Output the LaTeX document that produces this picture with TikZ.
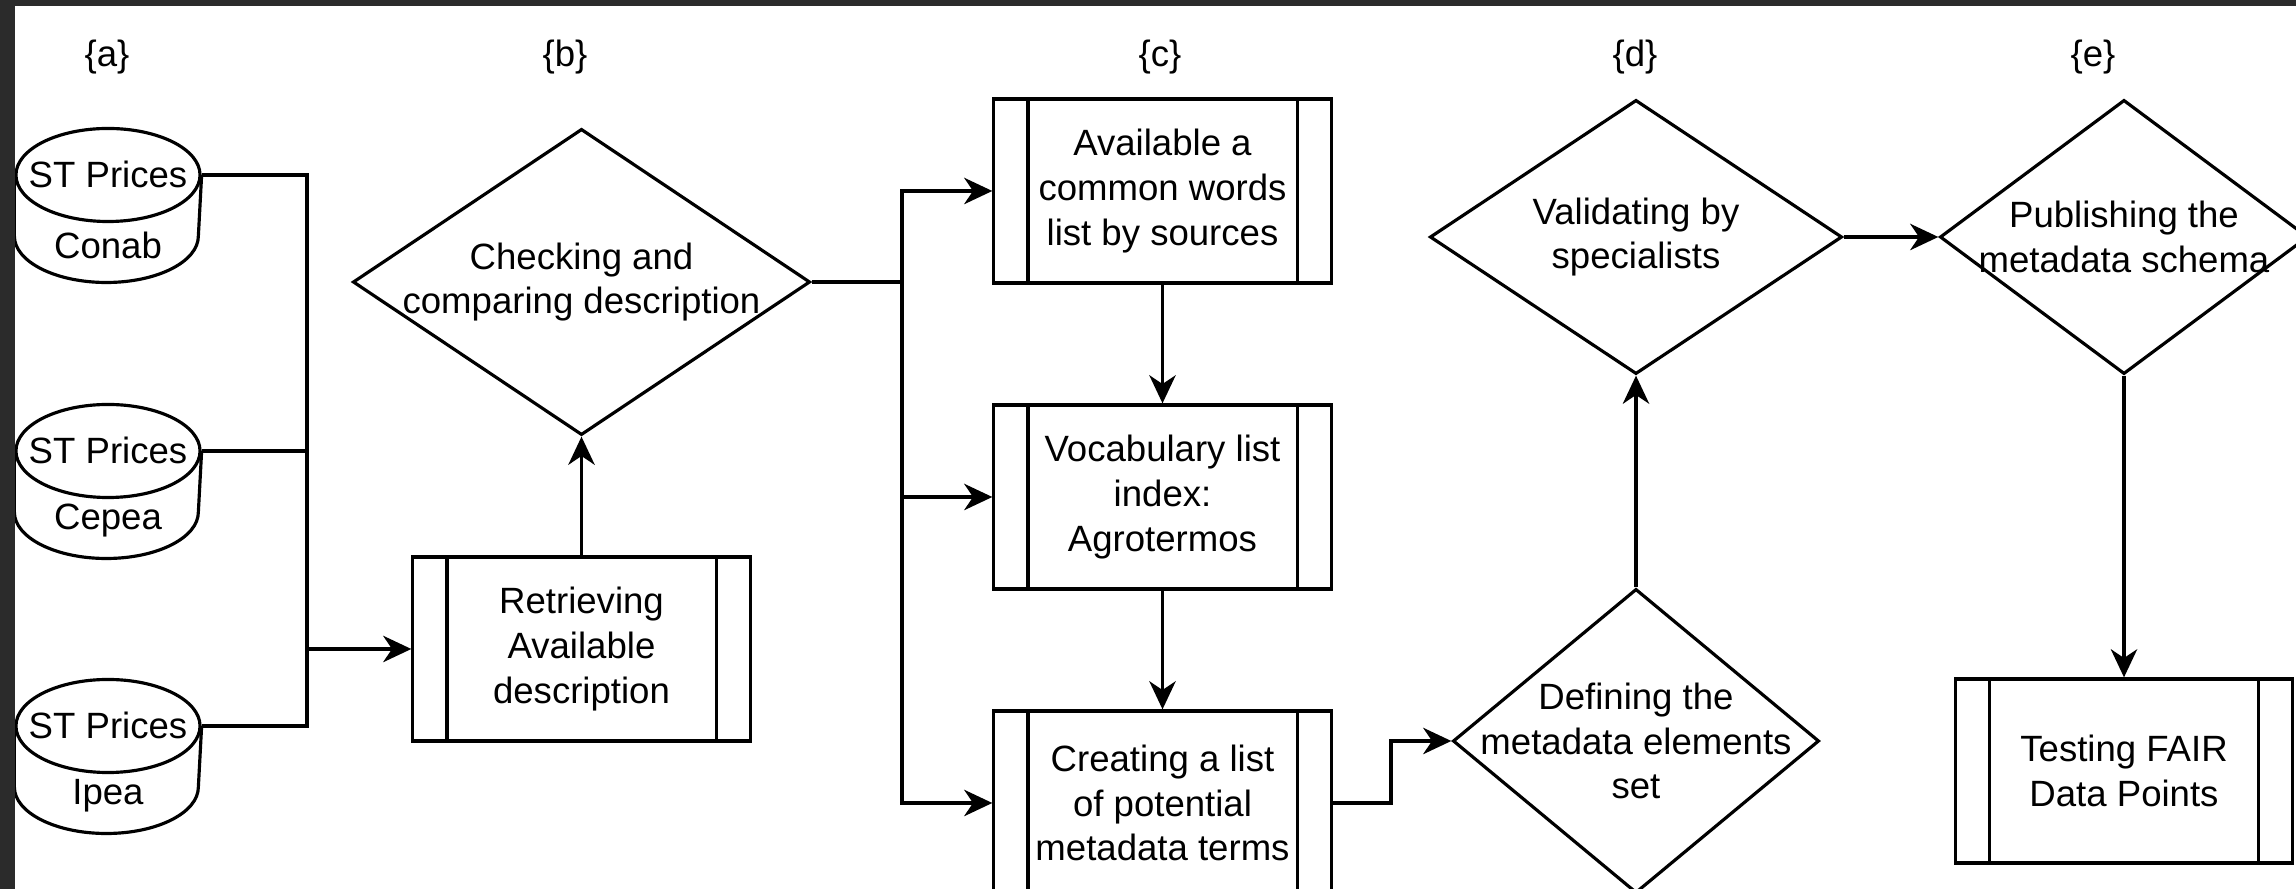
\documentclass[tikz,border=0pt]{standalone}
\usepackage{fontspec}
\setmainfont{Liberation Sans}
\usetikzlibrary{shapes.geometric,arrows.meta,calc}
\definecolor{framegray}{HTML}{2B2B2B}
\begin{document}
\begin{tikzpicture}[x=0.01cm,y=-0.01cm,
  every node/.style={font=\fontsize{10.4}{12.7}\selectfont},
  line/.style={draw=black, line width=0.9pt},
  arr/.style={line, -{Stealth[length=8pt,width=7.5pt,inset=2.5pt]}},
  txt/.style={align=center, inner sep=0pt},
  proc/.style={draw, line width=0.9pt, minimum width=3.37cm, minimum height=1.84cm,
    inner sep=0pt, align=center,
    path picture={\draw[line width=0.9pt]
      ([xshift=0.34cm]path picture bounding box.north west) -- ([xshift=0.34cm]path picture bounding box.south west)
      ([xshift=-0.34cm]path picture bounding box.north east) -- ([xshift=-0.34cm]path picture bounding box.south east);}},
  dia/.style={draw, diamond, line width=0.9pt, inner sep=0pt},
  topell/.style={draw, ellipse, line width=0.9pt, minimum width=1.84cm, minimum height=0.93cm, inner sep=0pt},
  lab/.style={inner sep=0pt},
]
\useasboundingbox (0,0) rectangle (2296,889);
\fill[framegray] (0,0) rectangle (2296,889);
\fill[white] (15,6) rectangle (2296,889);
\clip (15,6) rectangle (2296,889);

% column labels
\node[lab] (la) at (107,57) {\{a\}};
\node[lab] (lb) at (565,57) {\{b\}};
\node[lab] (lc) at (1160,57) {\{c\}};
\node[lab] (ld) at (1635,57) {\{d\}};
\node[lab] (le) at (2093,57) {\{e\}};

% cylinders
\foreach \n/\yc/\name in {1/175/Conab, 2/451/Cepea, 3/726/Ipea}{
  \node[topell] (top\n) at (108,\yc) {};
  \node[txt] (st\n) at (108,\yc-1) {ST Prices};
  \node[txt] (src\n) at (108,\yc+70) {\name};
  \draw[line width=0.9pt] (top\n.west) -- ++(0,61)
     .. controls ++(0,25.7) and ++(-50.8,0) .. ++(92,46.5)
     .. controls ++(50.8,0) and ++(0,25.7) .. ++(92,-46.5)
     -- (top\n.east);
}

% retrieving
\node[proc] (ret) at (581.5,649) {Retrieving\\Available\\description};
\coordinate (busa) at (307,649);
\draw[line] (top1.east) -| (busa);
\draw[line] (top3.east) -| (busa);
\draw[line] (top2.east) -- (top2.east -| busa);
\draw[arr] (busa) -- (ret.west);

% checking diamond
\node[dia, minimum width=4.57cm, minimum height=3.06cm] (db) at (581.5,282) {};
\node[txt] (dbt) at (db.center) {Checking and\\comparing description};
\draw[arr] (ret.north) -- (db.south);

% column c
\node[proc] (c1) at (1162.5,191) {Available a\\common words\\list by sources};
\node[proc] (c2) at (1162.5,497) {Vocabulary list\\index:\\Agrotermos};
\node[proc] (c3) at (1162.5,803) {Creating a list\\of potential\\metadata terms};
\coordinate (busb) at (902,282);
\draw[line] (db.east) -- (busb);
\draw[arr] (busb) |- (c1.west);
\draw[arr] (busb) |- (c3.west);
\draw[arr] (c2.west -| busb) -- (c2.west);
\draw[arr] (c1.south) -- (c2.north);
\draw[arr] (c2.south) -- (c3.north);

% column d
\node[dia, minimum width=3.66cm, minimum height=3.04cm] (dd) at (1636,741) {};
\node[txt] (ddt) at (dd.center) {Defining the\\metadata elements\\set};
\node[dia, minimum width=4.12cm, minimum height=2.74cm] (dv) at (1636,237) {};
\node[txt] (dvt) at (dv.center) {Validating by\\specialists};
\coordinate (kc) at (1391,803);
\draw[arr] (c3.east) -- (kc) |- (dd.west);
\draw[arr] (dd.north) -- (dv.south);

% column e
\node[dia, minimum width=3.68cm, minimum height=2.74cm] (dp) at (2124,237) {};
\node[txt] (dpt) at (dp.center) {Publishing the\\metadata schema};
\node[proc] (test) at (2124,771) {Testing FAIR\\Data Points};
\draw[arr] (dv.east) -- (dp.west);
\draw[arr] (dp.south) -- (test.north);
\end{tikzpicture}
\end{document}
